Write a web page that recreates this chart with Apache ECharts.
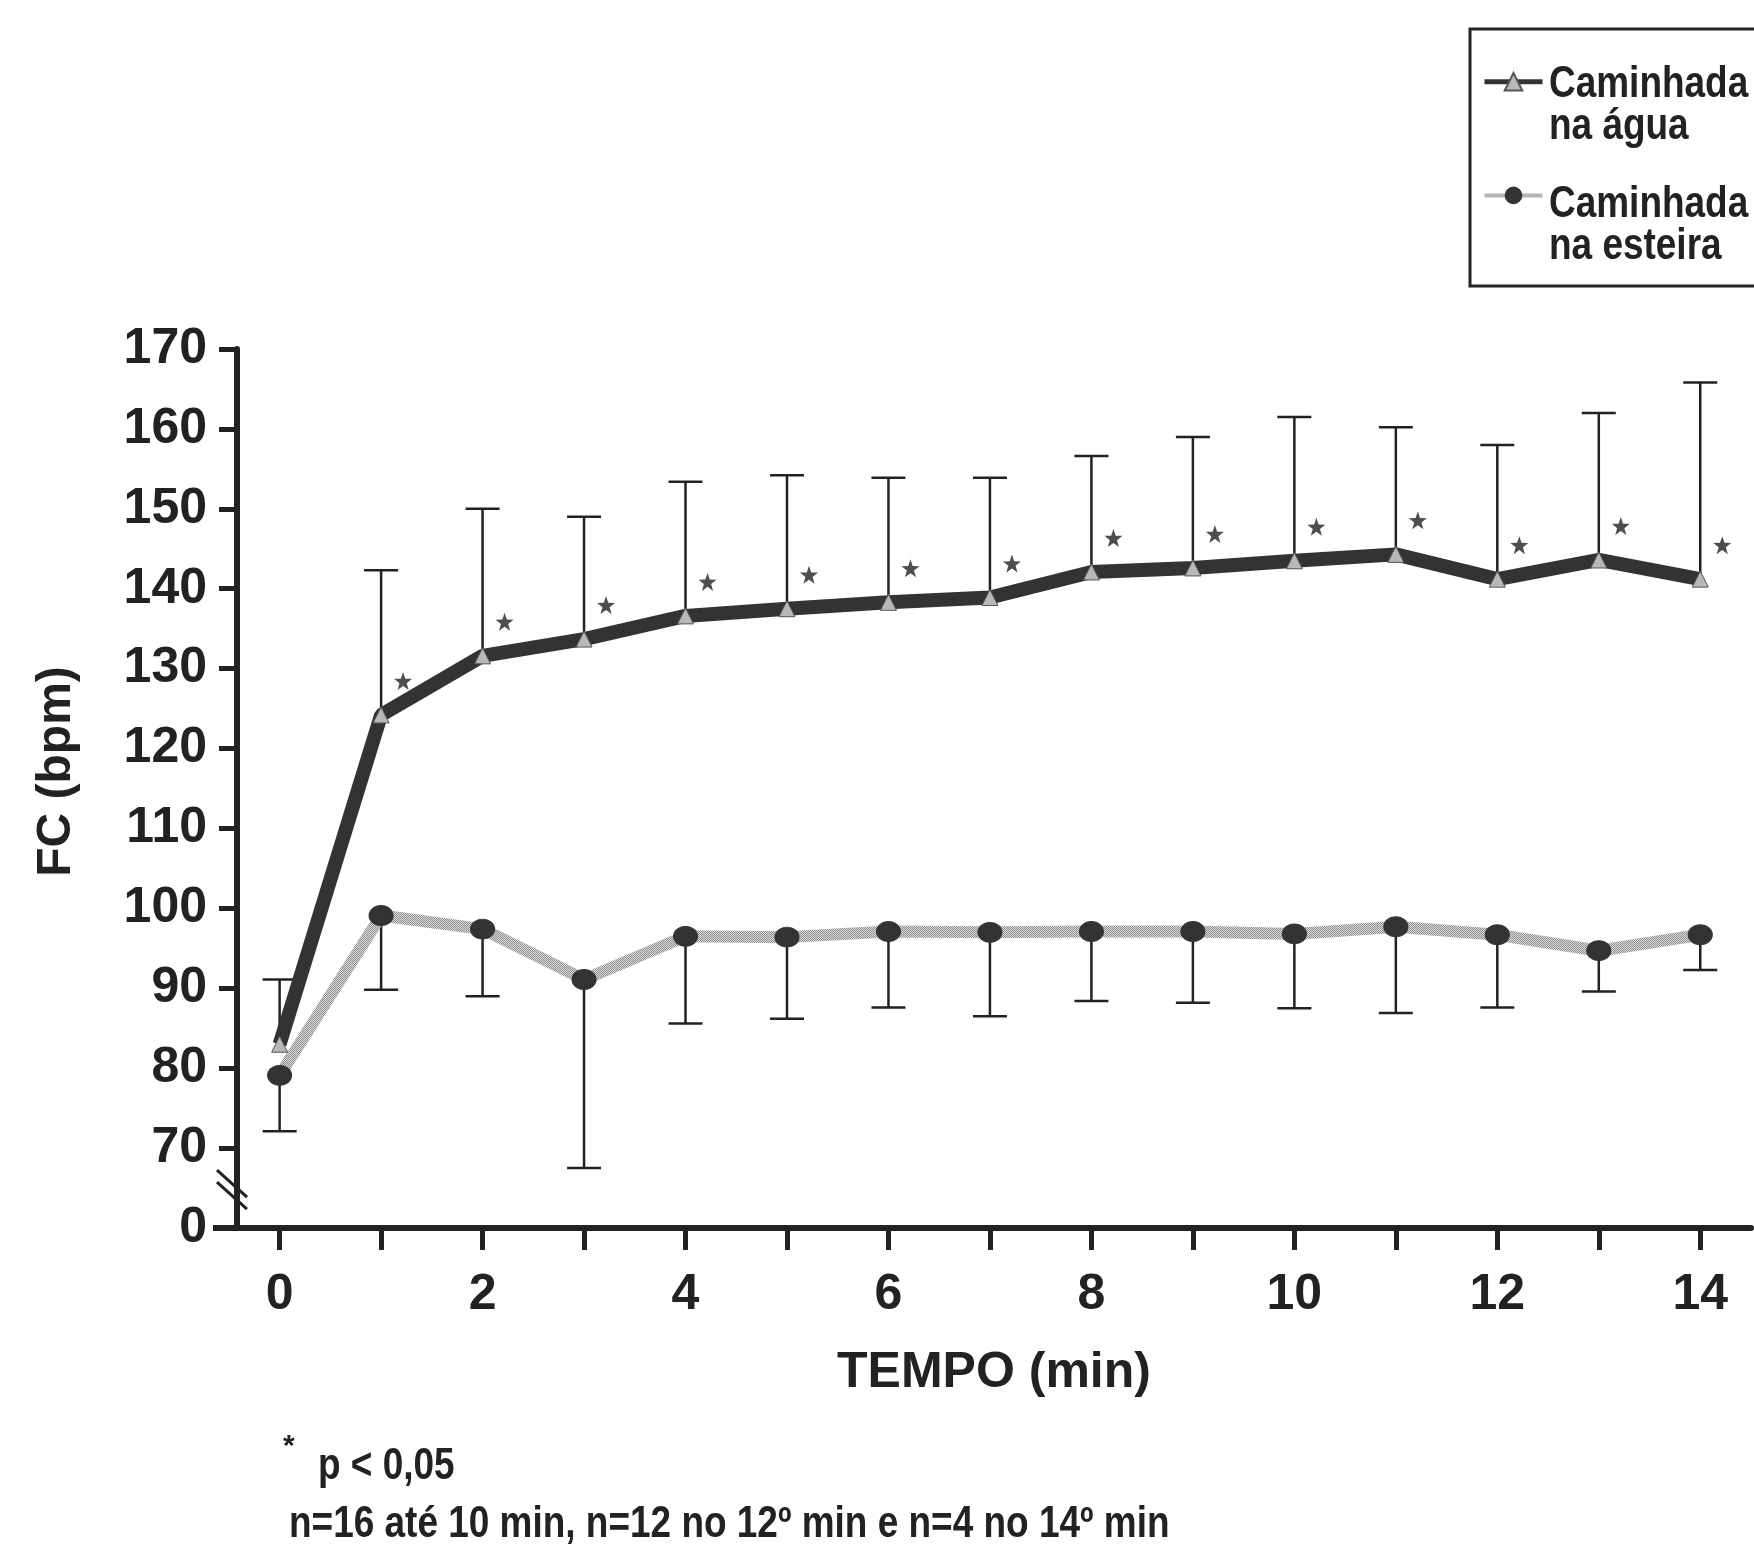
<!DOCTYPE html>
<html>
<head>
<meta charset="utf-8">
<title>FC x tempo</title>
<script src="https://cdn.jsdelivr.net/npm/echarts@6/dist/echarts.min.js"></script>
<style>
  html, body { margin: 0; padding: 0; background: #fff; }
  #main { width: 1754px; height: 1544px; }
</style>
</head>
<body>
<div id="main"></div>
<script>
// tempo (min)
const tempo = [0, 1, 2, 3, 4, 5, 6, 7, 8, 9, 10, 11, 12, 13, 14]
// caminhada na água: média e topo da barra de desvio
const aguaMedia = [83, 124.2, 131.6, 133.7, 136.6, 137.5, 138.3, 138.9, 142.1, 142.6, 143.5, 144.3, 141.2, 143.6, 141.2]
const aguaSup = [91.1, 142.3, 150, 149, 153.4, 154.2, 153.9, 153.9, 156.6, 159, 161.5, 160.2, 158, 162, 165.8]
// caminhada na esteira: média e fim inferior da barra
const esteiraMedia = [79.1, 99.1, 97.4, 91.1, 96.5, 96.4, 97.1, 97, 97.1, 97.1, 96.8, 97.7, 96.7, 94.7, 96.7]
const esteiraInf = [72.1, 89.8, 89, 67.5, 85.6, 86.2, 87.6, 86.5, 88.4, 88.2, 87.5, 86.9, 87.6, 89.6, 92.3]
// * p < 0,05
const significativo = [false, true, true, true, true, true, true, true, true, true, true, true, true, true, true]

// eixo y quebrado: o tick 60 mostra "0"
const yTicks = [60, 70, 80, 90, 100, 110, 120, 130, 140, 150, 160, 170]
const yLabels = ['0', '70', '80', '90', '100', '110', '120', '130', '140', '150', '160', '170']
const xLabels = [0, 2, 4, 6, 8, 10, 12, 14]

const nomeAgua = 'Caminhada na água'
const nomeEsteira = 'Caminhada na esteira'

const preto = '#222'
const fonte = 'Liberation Sans'
const starPath = 'path://M0,-10L2.35,-3.24L9.51,-3.09L3.8,1.24L5.88,8.09L0,4L-5.88,8.09L-3.8,1.24L-9.51,-3.09L-2.35,-3.24Z'

// textura hachurada da linha da esteira
function hachura () {
  const c = document.createElement('canvas')
  c.width = 4
  c.height = 4
  const ctx = c.getContext('2d')
  ctx.fillStyle = '#dcdcdc'
  ctx.fillRect(0, 0, 4, 4)
  ctx.fillStyle = '#8e8e8e'
  for (let i = 0; i < 4; i++) {
    ctx.fillRect(i, i, 1, 1)
    ctx.fillRect((i + 2) % 4, i, 1, 1)
  }
  return { image: c, repeat: 'repeat' }
}

// barra de erro: linha vertical + traço horizontal na ponta
function errorBar (params, api) {
  const p0 = api.coord([api.value(0), api.value(1)])
  const p1 = api.coord([api.value(0), api.value(2)])
  const half = 17
  const style = { stroke: preto, lineWidth: 2.5 }
  return {
    type: 'group',
    children: [
      { type: 'line', shape: { x1: p0[0], y1: p0[1], x2: p1[0], y2: p1[1] }, style: style },
      { type: 'line', shape: { x1: p1[0] - half, y1: p1[1], x2: p1[0] + half, y2: p1[1] }, style: style }
    ]
  }
}

// texto "estreito" (imitando Arial Narrow)
function texto (str, x, y, size) {
  return {
    type: 'text',
    x: x,
    y: y,
    scaleX: 0.84,
    style: { text: str, fontSize: size, fontWeight: 'bold', fill: preto, fontFamily: fonte, verticalAlign: 'middle' }
  }
}

const chart = echarts.init(document.getElementById('main'))

const option = {
  backgroundColor: '#fff',
  animation: false,
  grid: { left: 237, right: 3, top: 349, bottom: 316, containLabel: false },
  xAxis: {
    type: 'value',
    min: -0.42,
    max: 14.5,
    name: 'TEMPO (min)',
    nameLocation: 'middle',
    nameGap: 120,
    nameTextStyle: { fontSize: 50, fontWeight: 'bold', color: preto, fontFamily: fonte },
    axisLine: { lineStyle: { color: preto, width: 6 } },
    axisTick: { show: true, length: 22, lineStyle: { color: preto, width: 5 }, customValues: tempo },
    axisLabel: {
      customValues: xLabels,
      margin: 42,
      fontSize: 50,
      fontWeight: 'bold',
      color: preto,
      fontFamily: fonte
    },
    splitLine: { show: false }
  },
  yAxis: {
    type: 'value',
    min: 60,
    max: 170,
    interval: 10,
    name: 'FC (bpm)',
    nameLocation: 'middle',
    nameGap: 156,
    nameRotate: 90,
    nameTextStyle: { fontSize: 48, fontWeight: 'bold', color: preto, fontFamily: fonte, padding: [0, 0, 0, 34] },
    axisLine: { show: true, onZero: false, lineStyle: { color: preto, width: 6 } },
    axisTick: { show: true, length: 18, lineStyle: { color: preto, width: 5 } },
    axisLabel: {
      margin: 30,
      fontSize: 50,
      fontWeight: 'bold',
      color: preto,
      fontFamily: fonte,
      formatter: v => yLabels[yTicks.indexOf(v)]
    },
    splitLine: { show: false }
  },
  // só os ícones; os nomes vão em duas linhas no graphic
  legend: {
    data: [
      { name: nomeAgua, lineStyle: { width: 5 } },
      { name: nomeEsteira, lineStyle: { width: 4 } }
    ],
    orient: 'vertical',
    left: 1482,
    top: 72,
    padding: 0,
    itemGap: 95,
    itemWidth: 58,
    itemHeight: 22,
    formatter: () => ' ',
    textStyle: { fontSize: 8 }
  },
  series: [
    {
      name: 'barraEsteira',
      type: 'custom',
      renderItem: errorBar,
      data: tempo.map((t, i) => [t, esteiraMedia[i], esteiraInf[i]]),
      z: 1
    },
    {
      name: 'barraAgua',
      type: 'custom',
      renderItem: errorBar,
      data: tempo.map((t, i) => [t, aguaMedia[i], aguaSup[i]]),
      z: 1
    },
    {
      name: nomeEsteira,
      type: 'line',
      data: tempo.map((t, i) => [t, esteiraMedia[i]]),
      symbol: 'circle',
      symbolSize: [24, 20],
      lineStyle: { color: hachura(), width: 12 },
      itemStyle: { color: '#333', borderColor: '#333' },
      z: 3
    },
    {
      name: nomeAgua,
      type: 'line',
      data: tempo.map((t, i) => [t, aguaMedia[i]]),
      symbol: 'triangle',
      symbolSize: 16,
      lineStyle: { color: '#333', width: 14 },
      itemStyle: { color: '#b8b8b8', borderColor: '#555', borderWidth: 1 },
      z: 4
    },
    {
      name: 'p',
      type: 'scatter',
      data: tempo.filter((t, i) => significativo[i]).map(t => [t, aguaMedia[t]]),
      symbol: starPath,
      symbolSize: 18,
      symbolOffset: [22, -34],
      itemStyle: { color: preto },
      z: 5
    }
  ]
}

chart.setOption(option)

// marcas de quebra do eixo y, caixa da legenda e notas de rodapé
const q = chart.convertToPixel({ xAxisIndex: 0, yAxisIndex: 0 }, [-0.42, 65])
const base = chart.convertToPixel({ xAxisIndex: 0, yAxisIndex: 0 }, [-0.42, 60])
chart.setOption({
  graphic: [
    { type: 'line', shape: { x1: base[0] - 24, y1: base[1], x2: base[0], y2: base[1] }, style: { stroke: preto, lineWidth: 6 } },
    { type: 'line', shape: { x1: q[0] - 20, y1: q[1] - 18, x2: q[0] + 10, y2: q[1] + 9 }, style: { stroke: preto, lineWidth: 3 } },
    { type: 'line', shape: { x1: q[0] - 20, y1: q[1] - 6, x2: q[0] + 10, y2: q[1] + 21 }, style: { stroke: preto, lineWidth: 3 } },
    { type: 'rect', shape: { x: 1470, y: 29, width: 300, height: 257 }, style: { fill: 'none', stroke: preto, lineWidth: 3 } },
    texto('Caminhada', 1549, 85, 44),
    texto('na água', 1549, 127, 44),
    texto('Caminhada', 1549, 205, 44),
    texto('na esteira', 1549, 247, 44),
    { type: 'text', x: 283, y: 1432, style: { text: '*', fontSize: 30, fontWeight: 'bold', fill: preto, fontFamily: fonte } },
    texto('p < 0,05', 318, 1467, 44),
    texto('n=16 até 10 min, n=12 no 12º min e n=4 no 14º min', 289, 1525, 44)
  ]
})

window.onresize = () => chart.resize()
</script>
</body>
</html>
